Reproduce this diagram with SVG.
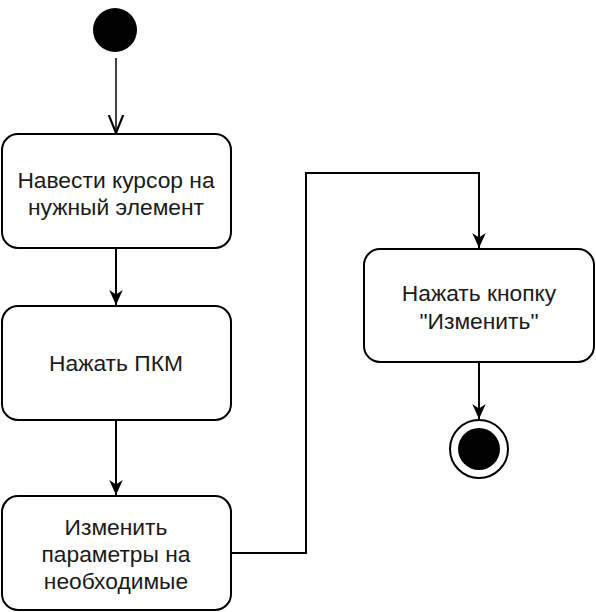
<svg xmlns="http://www.w3.org/2000/svg" width="596" height="612" viewBox="0 0 596 612">
<defs>
<style>
.box{fill:#fff;stroke:#000;stroke-width:2}
.t{font-family:"Liberation Sans",Arial,sans-serif;font-size:22.8px;fill:#1a1a1a;text-anchor:middle}
.c{fill:none;stroke:#000;stroke-width:2}
</style>
<marker id="fa" viewBox="0 0 10 10" refX="10" refY="5" markerWidth="15" markerHeight="15" markerUnits="userSpaceOnUse" orient="auto"><path d="M0,0.5 L10,5 L0,9.5 L3,5 Z" fill="#000"/></marker>
<marker id="oa" viewBox="0 0 10 10" refX="10" refY="5" markerWidth="18" markerHeight="18" markerUnits="userSpaceOnUse" orient="auto"><path d="M0,1 L10,5 L0,9" fill="none" stroke="#000" stroke-width="1.2"/></marker>
</defs>
<g id="connectors">
<path class="c" d="M116,58 V133" marker-end="url(#oa)" style="stroke-width:1.5"/>
<path class="c" d="M116,248 V305" marker-end="url(#fa)"/>
<path class="c" d="M116,420 V495" marker-end="url(#fa)"/>
<path class="c" d="M231,553 H306 V173 H479 V248" marker-end="url(#fa)"/>
<path class="c" d="M479,363 V419" marker-end="url(#fa)"/>
</g>
<g id="start"><circle cx="115" cy="30" r="22" fill="#000"/></g>
<g id="n1"><rect class="box" x="2" y="134" width="229" height="114" rx="16"/>
<text class="t" x="116" y="188">Навести курсор на</text><text class="t" x="116" y="215">нужный элемент</text></g>
<g id="n2"><rect class="box" x="2" y="306" width="229" height="114" rx="16"/>
<text class="t" x="116" y="371">Нажать ПКМ</text></g>
<g id="n3"><rect class="box" x="2" y="496" width="229" height="114" rx="16"/>
<text class="t" x="116" y="535">Изменить</text><text class="t" x="116" y="562">параметры на</text><text class="t" x="116" y="589">необходимые</text></g>
<g id="n4"><rect class="box" x="364" y="249" width="230" height="113" rx="16"/>
<text class="t" x="479" y="301">Нажать кнопку</text><text class="t" x="479" y="329">"Изменить"</text></g>
<g id="end"><circle cx="479" cy="449" r="29" fill="#fff" stroke="#000" stroke-width="2"/><circle cx="479" cy="449" r="21" fill="#000"/></g>
</svg>
